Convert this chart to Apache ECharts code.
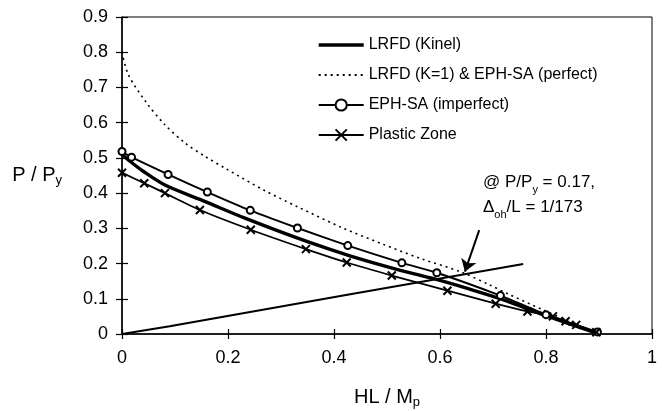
<!DOCTYPE html>
<html>
<head>
<meta charset="utf-8">
<script src="https://cdn.jsdelivr.net/npm/echarts@6/dist/echarts.min.js"></script>
<style>html,body{margin:0;padding:0;background:#fff}#c{width:664px;height:411px}</style>
</head>
<body>
<div id="c"></div>
<script>
// ---- data ----
var xTicks = [0, 0.2, 0.4, 0.6, 0.8, 1];
var yTicks = [0, 0.1, 0.2, 0.3, 0.4, 0.5, 0.6, 0.7, 0.8, 0.9];

var kinelX = [0, 0.012, 0.04, 0.081, 0.157, 0.232, 0.35, 0.43, 0.52, 0.6, 0.65, 0.72, 0.8, 0.9];
var kinelY = [0.51, 0.494, 0.462, 0.423, 0.376, 0.329, 0.262, 0.222, 0.183, 0.152, 0.13, 0.097, 0.052, 0.0];

var lrfdX = [0, 0.012, 0.047, 0.081, 0.119, 0.157, 0.194, 0.267, 0.330, 0.418, 0.487, 0.562, 0.638, 0.694, 0.726, 0.792, 0.846, 0.9];
var lrfdY = [0.80, 0.736, 0.655, 0.594, 0.542, 0.504, 0.471, 0.409, 0.362, 0.300, 0.258, 0.215, 0.177, 0.139, 0.1155, 0.070, 0.035, 0.0];

var ephX = [0, 0.018, 0.087, 0.161, 0.242, 0.331, 0.426, 0.528, 0.594, 0.714, 0.80, 0.897];
var ephY = [0.518, 0.502, 0.453, 0.403, 0.351, 0.301, 0.251, 0.202, 0.174, 0.109, 0.055, 0.006];

var pzX = [0, 0.042, 0.081, 0.147, 0.243, 0.347, 0.424, 0.509, 0.614, 0.705, 0.765, 0.813, 0.837, 0.857, 0.895];
var pzY = [0.458, 0.428, 0.400, 0.352, 0.296, 0.241, 0.203, 0.166, 0.123, 0.086, 0.064, 0.050, 0.036, 0.026, 0.005];

var deltaX = [0, 0.09, 0.428, 0.757];
var deltaY = [0, 0.022, 0.112, 0.199];

var arrowFrom = [0.674, 0.295];
var arrowTo = [0.647, 0.177];

var names = ['LRFD (Kinel)', 'LRFD (K=1) & EPH-SA (perfect)', 'EPH-SA (imperfect)', 'Plastic Zone'];

// ---- build ----
function pairs(xs, ys) { return xs.map(function (x, i) { return [x, ys[i]]; }); }
var FONT = '"Liberation Sans", Arial, Helvetica, sans-serif';
var crossPath = 'path://M0,0L10,10M10,0L0,10';

var chart = echarts.init(document.getElementById('c'), null, { renderer: 'canvas' });
var axisCommon = {
  type: 'value', min: 0,
  splitLine: { show: false },
  axisLine: { show: true, onZero: false, lineStyle: { color: '#000', width: 1.5 } }
};
chart.setOption({
  animation: false,
  backgroundColor: '#fff',
  textStyle: { fontFamily: FONT },
  grid: { left: 122, right: 12, top: 17, bottom: 77, show: true, borderColor: '#000', borderWidth: 1,
          containLabel: false, outerBoundsMode: 'none' },
  legend: {
    data: [
      { name: names[0], itemStyle: { opacity: 0 }, lineStyle: { width: 3.4, color: '#000' } },
      { name: names[1], itemStyle: { opacity: 0 } },
      { name: names[2] },
      { name: names[3] }
    ],
    orient: 'vertical',
    left: 312, top: 32,
    itemWidth: 45, itemHeight: 14, itemGap: 14,
    textStyle: { fontFamily: FONT, fontSize: 16, color: '#000' }
  },
  xAxis: [
    Object.assign({}, axisCommon, {
      max: 1, interval: 0.2, position: 'bottom',
      axisTick: { show: true, length: 5, lineStyle: { color: '#000', width: 1.2 } },
      axisLabel: { fontSize: 18, color: '#000', margin: 15, fontFamily: FONT,
        formatter: function (v) { return xTicks.indexOf(+v.toFixed(1)) >= 0 ? String(+v.toFixed(1)) : ''; } },
      name: 'HL / M{s|p}', nameLocation: 'middle', nameGap: 52,
      nameTextStyle: { fontSize: 20, color: '#000', fontFamily: FONT, lineHeight: 23,
        rich: { s: { fontSize: 13, verticalAlign: 'bottom', lineHeight: 23, fontFamily: FONT, color: '#000' } } }
    }),
    Object.assign({}, axisCommon, {
      max: 1, interval: 0.2, position: 'bottom',
      axisLine: { show: false },
      axisTick: { show: true, inside: true, length: 5, lineStyle: { color: '#000', width: 1.2 } },
      axisLabel: { show: false }
    })
  ],
  yAxis: [
    Object.assign({}, axisCommon, {
      max: 0.9, interval: 0.1, position: 'left',
      axisTick: { show: true, length: 6, lineStyle: { color: '#000', width: 1.2 } },
      axisLabel: { fontSize: 18, color: '#000', margin: 14, fontFamily: FONT,
        formatter: function (v) { return yTicks.indexOf(+v.toFixed(1)) >= 0 ? String(+v.toFixed(1)) : ''; } },
      name: 'P / P{s|y}', nameLocation: 'middle', nameGap: 60, nameRotate: 0,
      nameTextStyle: { fontSize: 20, color: '#000', fontFamily: FONT, lineHeight: 23,
        rich: { s: { fontSize: 13, verticalAlign: 'bottom', lineHeight: 23, fontFamily: FONT, color: '#000' } } }
    }),
    Object.assign({}, axisCommon, {
      max: 0.9, interval: 0.1, position: 'left',
      axisLine: { show: false },
      axisTick: { show: true, inside: true, length: 6, lineStyle: { color: '#000', width: 1.2 } },
      axisLabel: { show: false }
    })
  ],
  series: [
    {
      name: names[0], type: 'line', data: pairs(kinelX, kinelY), smooth: 0.3,
      symbol: 'none',
      lineStyle: { color: '#000', width: 3.4 }, itemStyle: { color: '#000' }, z: 3
    },
    {
      name: names[1], type: 'line', data: pairs(lrfdX, lrfdY), smooth: 0.3,
      symbol: 'none',
      lineStyle: { color: '#000', width: 1.6, type: [2, 4] }, itemStyle: { color: '#000' }, z: 2
    },
    {
      name: names[2], type: 'line', data: pairs(ephX, ephY), smooth: 0.2,
      symbol: 'emptyCircle', symbolSize: 7,
      lineStyle: { color: '#000', width: 2 }, itemStyle: { color: '#000', borderColor: '#000', borderWidth: 1.6 }, z: 4
    },
    {
      name: names[3], type: 'line', data: pairs(pzX, pzY), smooth: 0.2,
      symbol: crossPath, symbolSize: 8,
      lineStyle: { color: '#000', width: 1.8 }, itemStyle: { color: '#000', borderColor: '#000', borderWidth: 2 }, z: 4
    },
    {
      name: 'delta', type: 'line', data: pairs(deltaX, deltaY),
      symbol: 'none',
      lineStyle: { color: '#000', width: 2 }, z: 3,
      markLine: {
        silent: true, symbol: ['none', 'arrow'], symbolSize: 12,
        label: { show: false },
        lineStyle: { color: '#000', width: 2, type: 'solid' },
        itemStyle: { color: '#000' },
        data: [[{ coord: arrowFrom }, { coord: arrowTo }]]
      }
    }
  ],
  graphic: [
    {
      type: 'text', left: 483, top: 170,
      style: {
        text: '@ P/P{s|y} = 0.17,\n{d|Δ}{s|oh}/L = 1/173',
        fontFamily: FONT, fontSize: 17, fill: '#000', lineHeight: 25,
        rich: {
          s: { fontSize: 11, verticalAlign: 'bottom', lineHeight: 25, fontFamily: FONT, fill: '#000' },
          d: { fontSize: 17, fontFamily: FONT, fill: '#000', lineHeight: 25 }
        }
      }
    }
  ]
});
</script>
</body>
</html>
